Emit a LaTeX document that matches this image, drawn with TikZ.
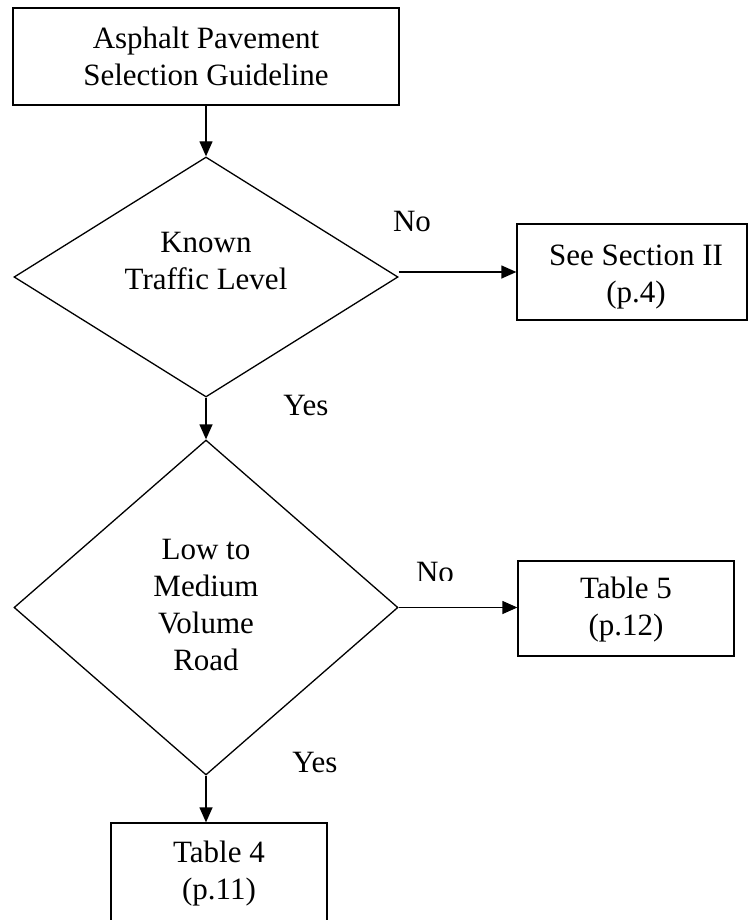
\documentclass[tikz,border=0pt]{standalone}
\usepackage{fontspec}
\setmainfont{Liberation Serif}
\usetikzlibrary{shapes.geometric,arrows.meta}

\tikzset{
  flowbox/.style={draw, line width=1.3pt, inner sep=0pt, align=center},
  decision/.style={draw, diamond, line width=1.3pt, inner sep=0pt},
  flowarrow/.style={line width=1.3pt, -{Triangle[length=15pt,width=13pt]}},
  txt/.style={align=center, inner sep=0pt}
}

\begin{document}
\begin{tikzpicture}[x=1pt, y=-1pt, font=\fontsize{31}{37}\selectfont]
        % Page frame
        \useasboundingbox (0,0) rectangle (749,920);

        % Boxes
        \node[flowbox, minimum width=386pt, minimum height=97pt] (guide) at (206,56.5) {Asphalt Pavement\\Selection Guideline};
        \node[flowbox, minimum width=230pt, minimum height=96pt] (sec) at (632,272) {};
        \node[flowbox, minimum width=216pt, minimum height=95pt] (tab5) at (626,608.5) {};
        \node[flowbox, minimum width=216pt, minimum height=102pt] (tab4) at (219,874) {};

        % Decisions
        \node[decision, minimum width=384pt, minimum height=240pt] (known) at (206,277) {};
        \node[decision, minimum width=384pt, minimum height=335pt] (road) at (206,607.5) {};

        % Texts
        \node[txt] (knowntxt) at (206,261) {Known\\Traffic Level};
        \node[txt] (roadtxt) at (206,605) {Low to\\Medium\\Volume\\Road};
        \node[txt] (sectxt) at (636,277) {See Section II\\(p.4)};
        \node[txt] (tab5txt) at (626,610) {Table 5\\(p.12)};
        \node[txt] (tab4txt) at (219,874) {Table 4\\(p.11)};

        % Branch labels
        \node[txt] (no1) at (412,222) {No};
        \node[txt] (yes1) at (306,405) {Yes};
        \begin{scope}
          % lower "No" is cut off at the foot
          \clip (400,540) rectangle (480,580);
          \node[txt] (no2) at (435,572) {No};
        \end{scope}
        \node[txt] (yes2) at (315,762) {Yes};

        % Connectors
        \draw[flowarrow] (guide.south) -- (known.north);
        \draw[flowarrow] (known.east |- sec.west) -- (sec.west);
        \draw[flowarrow] (known.south) -- (road.north);
        \draw[flowarrow] (road.east) -- (road.east -| tab5.west);
        \draw[flowarrow] (road.south) -- (road.south |- tab4.north);
    \end{tikzpicture}
\end{document}
